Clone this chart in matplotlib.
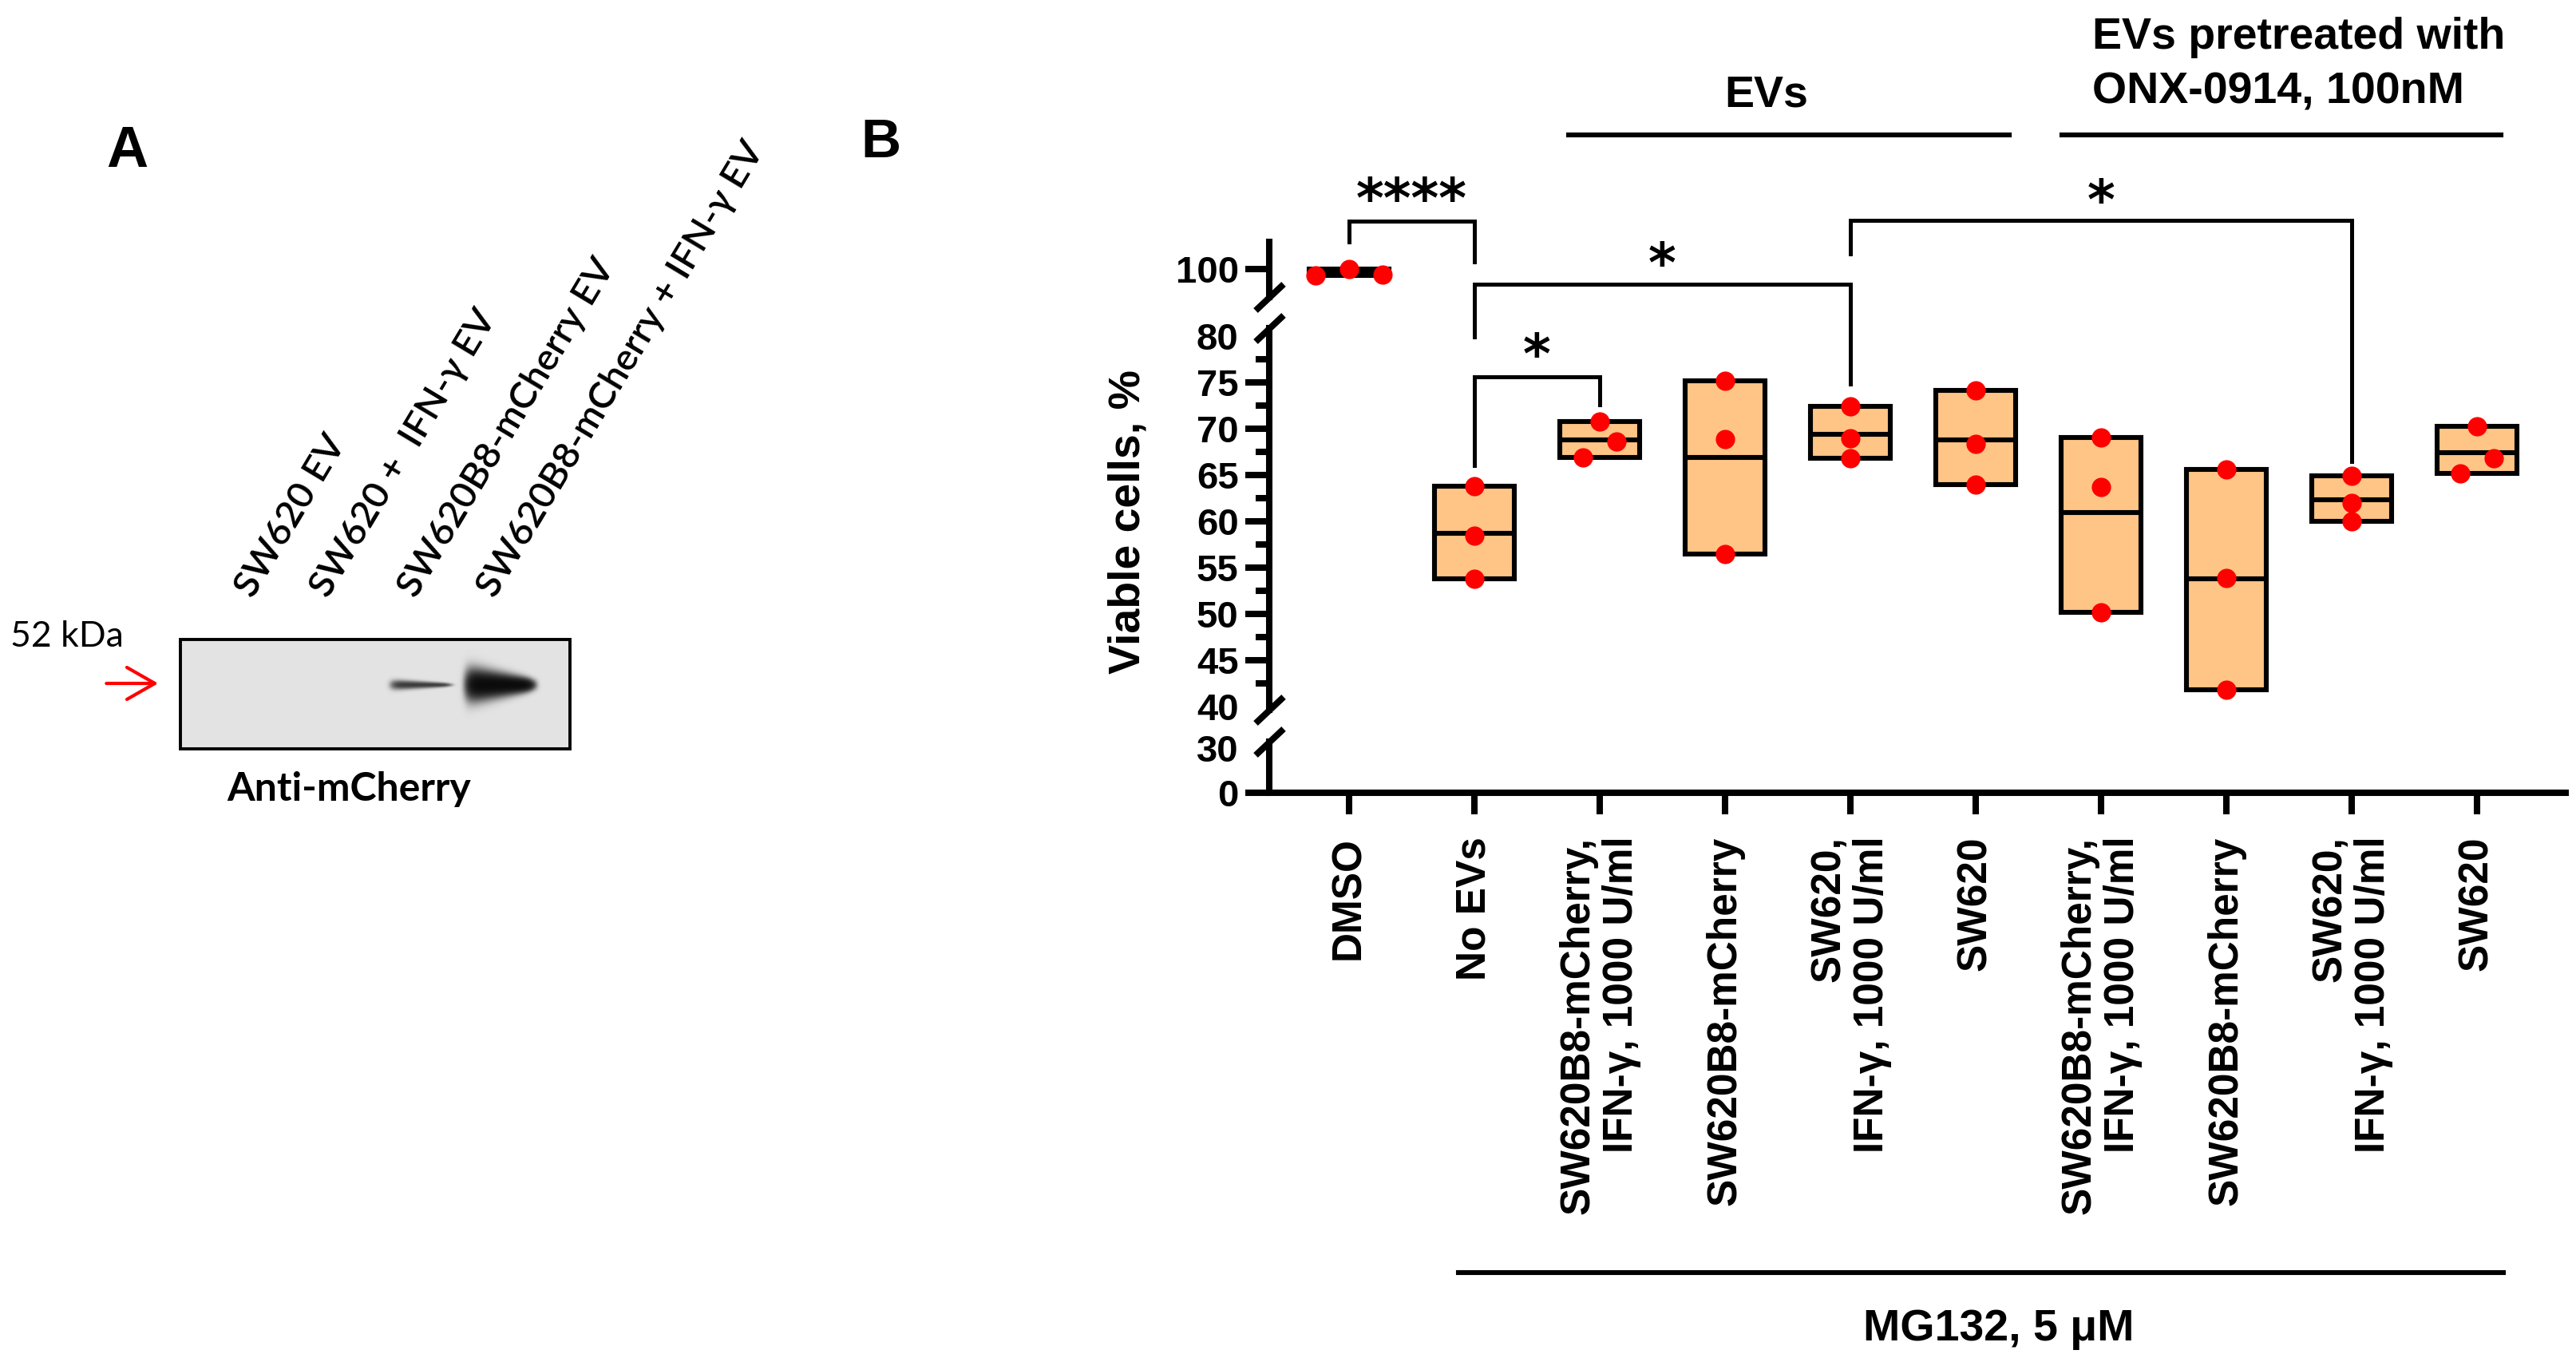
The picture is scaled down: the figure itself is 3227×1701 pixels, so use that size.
import numpy as np
import matplotlib.pyplot as plt
from matplotlib.lines import Line2D
from matplotlib.patches import Rectangle

plt.rcParams['font.family'] = ['Liberation Sans', 'DejaVu Sans']
plt.rcParams['font.weight'] = 'bold'

# ---------------- data ----------------
# panel A: western blot lanes and relative band signal
blot_lanes = ["SW620 EV", "SW620 +  IFN-γ EV", "SW620B8-mCherry EV",
              "SW620B8-mCherry + IFN-γ EV"]
band_signal = [0.0, 0.0, 0.45, 1.0]

# panel B: viable cells (%) per group, three replicates each
groups = ["DMSO", "No EVs", "SW620B8-mCherry,\nIFN-γ, 1000 U/ml", "SW620B8-mCherry",
          "SW620,\nIFN-γ, 1000 U/ml", "SW620",
          "SW620B8-mCherry,\nIFN-γ, 1000 U/ml", "SW620B8-mCherry",
          "SW620,\nIFN-γ, 1000 U/ml", "SW620"]
viable = [
    [99.3, 100.0, 99.4],
    [63.8, 58.45, 53.8],
    [70.8, 66.9, 68.6],
    [75.2, 68.9, 56.5],
    [72.4, 68.95, 66.8],
    [74.1, 68.4, 64.0],
    [69.05, 63.7, 50.2],
    [65.6, 53.9, 41.8],
    [64.9, 62.0, 60.0],
    [70.3, 65.2, 66.8],
]
comparisons = [(0, 1, "****"), (1, 2, "*"), (1, 4, "*"), (4, 8, "*")]

# ---------------- layout ----------------
W, H, DPI = 3227, 1701, 200
fig = plt.figure(figsize=(W / DPI, H / DPI), dpi=DPI)


def px_box(left, top, right, bottom):
    return [left / W, 1 - bottom / H, (right - left) / W, (bottom - top) / H]


box_fill = '#FFC586'
axis_lw = 2.9
box_lw = 2.2

# broken y axis: three stacked segments
ax_top = fig.add_axes(px_box(1590, 303, 3214, 372))
ax_mid = fig.add_axes(px_box(1590, 411, 3214, 889))
ax_bot = fig.add_axes(px_box(1590, 929, 3214, 993))
ax_top.set_ylim(96.98, 102.93)
ax_mid.set_ylim(39.66, 80.86)
ax_bot.set_ylim(0, 34.3)


def dodge(vals, gap=1.85, step=0.27):
    # spread points that would overlap, left to right in list order
    vals = np.asarray(vals)
    order = np.argsort(-vals)
    off = np.zeros(len(vals))
    clusters, cur = [], [order[0]]
    for a, b in zip(order[:-1], order[1:]):
        if vals[a] - vals[b] < gap:
            cur.append(b)
        else:
            clusters.append(cur)
            cur = [b]
    clusters.append(cur)
    for c in clusters:
        if len(c) > 1:
            c = sorted(c)
            off[c] = (np.arange(len(c)) - (len(c) - 1) / 2) * step
    return off


x = np.arange(len(groups))
for ax in (ax_top, ax_mid, ax_bot):
    for i, vals in enumerate(viable):
        lo, hi, mean = min(vals), max(vals), np.mean(vals)
        ax.bar(i, hi - lo, bottom=lo, width=0.64, color=box_fill,
               edgecolor='black', linewidth=box_lw, zorder=2)
        ax.hlines(mean, i - 0.32, i + 0.32, color='black', lw=box_lw, zorder=3)
        ax.scatter(i + dodge(vals), vals, s=76, color='red', linewidths=0, zorder=4)
    ax.set_xlim(-0.637, 9.707)
    ax.patch.set_alpha(0)
    for side in ('top', 'right'):
        ax.spines[side].set_visible(False)
    ax.spines['left'].set_linewidth(axis_lw)
    ax.spines['bottom'].set_linewidth(axis_lw)
    ax.tick_params(axis='y', which='major', length=10.8, width=axis_lw, labelsize=17, pad=3)
    ax.tick_params(axis='y', which='minor', length=6, width=axis_lw)

for ax in (ax_top, ax_mid):
    ax.spines['bottom'].set_visible(False)
    ax.set_xticks([])

ax_top.set_yticks([100])
ax_mid.set_yticks(range(40, 81, 5))
ax_mid.set_yticks(np.arange(42.5, 80, 5), minor=True)
ax_bot.set_yticks([0, 30])
mt = ax_mid.yaxis.get_major_ticks()
mt[0].tick1line.set_visible(False)
mt[-1].tick1line.set_visible(False)
ax_bot.yaxis.get_major_ticks()[1].tick1line.set_visible(False)

ax_bot.set_xticks(x)
ax_bot.set_xticklabels(groups, rotation=90, fontsize=18.5, linespacing=1.15,
                       multialignment='right')
ax_bot.tick_params(axis='x', length=9.7, width=axis_lw, pad=10)

# break marks on the y axis
for yp in (372, 411, 889, 929):
    fig.add_artist(Line2D([(1590 - 17) / W, (1590 + 18) / W],
                          [1 - (yp + 17) / H, 1 - (yp - 16) / H],
                          lw=axis_lw, color='black', solid_capstyle='butt'))

fig.text(1413 / W, 1 - 653 / H, "Viable cells, %", rotation=90, fontsize=20,
         ha='center', va='center')

# significance brackets (mid-axis units)
bracket_levels = [(92.44, 90.17, 88.02, 96.21), (75.63, 66.03, 72.61, 79.40),
                  (85.64, 79.94, 74.83, 89.24), (92.5, 88.9, 66.5, 96.08)]
for (a, b, lab), (yb, ya, yb2, ys) in zip(comparisons, bracket_levels):
    ax_mid.plot([a, a, b, b], [ya, yb, yb, yb2], color='black', lw=1.8,
                clip_on=False, solid_joinstyle='miter', zorder=5)
    ax_mid.text((a + b) / 2, ys - 3.39, lab, ha='center', va='baseline',
                fontsize=24, family='DejaVu Sans', clip_on=False)

# group annotations
ax_mid.plot([1.75, 5.27], [101.7, 101.7], color='black', lw=2.2, clip_on=False)
ax_mid.plot([5.69, 9.19], [101.7, 101.7], color='black', lw=2.2, clip_on=False)
ax_mid.text(3.33, 104.74, "EVs", ha='center', va='baseline', fontsize=20)
ax_mid.text(5.93, 111.0, "EVs pretreated with", ha='left', va='baseline', fontsize=20)
ax_mid.text(5.93, 105.1, "ONX-0914, 100nM", ha='left', va='baseline', fontsize=20)
ax_mid.plot([0.87, 9.21], [-21.12, -21.12], color='black', lw=2.2, clip_on=False)
ax_mid.text(5.18, -28.4, "MG132, 5 μM", ha='center', va='baseline', fontsize=20)

fig.text(1103 / W, 1 - 179 / H, "B", fontsize=25, ha='center', va='center')

# ---------------- panel A: blot ----------------
ax_blot = fig.add_axes(px_box(226, 801, 714, 938))
nx, ny = 488, 137
lane_x = [0.199, 0.391, 0.617, 0.820]
yy, xx = np.mgrid[0:ny, 0:nx].astype(float)
dens = np.zeros((ny, nx))
for cx, s in zip(lane_x, band_signal):
    if s <= 0:
        continue
    hw = 33 + 9 * s
    t = (xx - cx * nx) / hw
    tt = np.clip((t + 1) / 2, 0, 1)
    sig = (1.5 + 9.5 * s ** 2) * (1.15 - 0.75 * tt)
    dens += 3 * s * np.exp(-t ** 8) * np.exp(-0.5 * ((yy - 57) / sig) ** 2)
img = 0.89 * np.exp(-dens)
ax_blot.imshow(img, cmap='gray', vmin=0, vmax=1, extent=[0, 1, 0, 1], aspect='auto')
ax_blot.set_xlim(0, 1)
ax_blot.set_ylim(0, 1)
ax_blot.axis('off')
ax_blot.add_patch(Rectangle((0, 0), 1, 1, transform=ax_blot.transAxes, fill=False,
                            ec='black', lw=1.4, clip_on=False))

lane_font = dict(family=['Lato', 'DejaVu Sans'], fontstyle='normal')
for cx, lab in zip(lane_x, blot_lanes):
    ax_blot.text(cx - 6 / nx, 1.365, lab, rotation=59, rotation_mode='anchor',
                 ha='left', va='baseline', fontsize=17, fontweight='semibold',
                 transform=ax_blot.transAxes, **lane_font)

ax_blot.text(-0.4365, 1.022, "52 kDa", ha='left', va='center', fontsize=16,
             fontweight='normal', transform=ax_blot.transAxes, **lane_font)
ax_blot.annotate('', xy=(-0.057, 0.5985), xytext=(-0.19, 0.5985),
                 xycoords='axes fraction', textcoords='axes fraction',
                 arrowprops=dict(arrowstyle='->,head_length=1.26,head_width=0.72',
                                 color='red', lw=1.5, mutation_scale=10,
                                 shrinkA=0, shrinkB=0))
ax_blot.text(0.432, -0.365, "Anti-mCherry", ha='center', va='center', fontsize=18,
             transform=ax_blot.transAxes, **lane_font)

fig.text(159.5 / W, 1 - 190 / H, "A", fontsize=26, ha='center', va='center')

fig.savefig('out.png', dpi=DPI)
